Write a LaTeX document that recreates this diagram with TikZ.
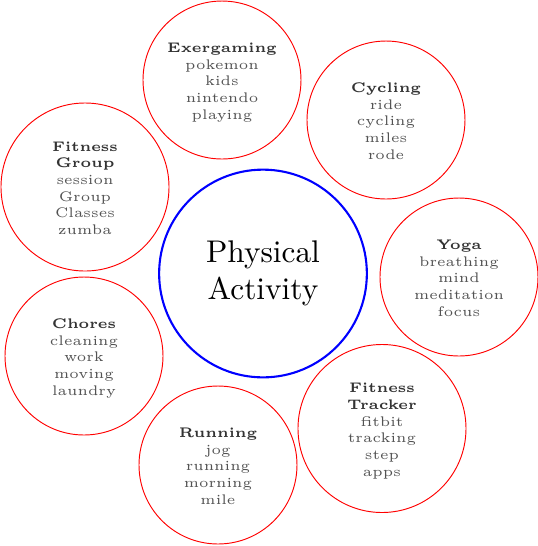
\documentclass[tikz,border=0pt]{standalone}
\usepackage{xcolor}
\usepackage{graphicx}
\newcommand{\hd}[1]{\textcolor{black!80}{\textbf{#1}}}
\newcommand{\smalltext}[1]{\raisebox{-1.2pt}[\height][\depth]{\scalebox{1.333}{\tiny\begin{tabular}{@{}c@{}}#1\end{tabular}}}}
\newcommand{\bigtext}[1]{\scalebox{1.5}{\normalsize\begin{tabular}{@{}c@{}}#1\end{tabular}}}
\begin{document}
\begin{tikzpicture}[x=0.4785pt,y=-0.4785pt,
  topic/.style={circle,draw=red,line width=0.45pt,inner sep=0pt,align=center,
    text=black!68},
  big/.style={topic,minimum size=80.4pt},
  small/.style={topic,minimum size=75.6pt},
  hub/.style={circle,draw=blue,line width=1pt,inner sep=0pt,minimum size=99.4pt,
    align=center}]
\useasboundingbox (0,0) rectangle (538,546);
\node[hub] (c) at (263,273.5) {\bigtext{Physical\\Activity}};
\node[small] (ex) at (222,80) {\smalltext{\hd{Exergaming}\\pokemon\\kids\\nintendo\\playing}};
\node[small] (cy) at (386,120) {\smalltext{\hd{Cycling}\\ride\\cycling\\miles\\rode}};
\node[small] (yo) at (459,277) {\smalltext{\hd{Yoga}\\breathing\\mind\\meditation\\focus}};
\node[big] (ft) at (382,428.5) {\smalltext{\hd{Fitness}\\\hd{Tracker}\\fitbit\\tracking\\step\\apps}};
\node[small] (ru) at (218,465) {\smalltext{\hd{Running}\\jog\\running\\morning\\mile}};
\node[small] (ch) at (84,356) {\smalltext{\hd{Chores}\\cleaning\\work\\moving\\laundry}};
\node[big] (fg) at (85,187) {\smalltext{\hd{Fitness}\\\hd{Group}\\session\\Group\\Classes\\zumba}};
\end{tikzpicture}
\end{document}
